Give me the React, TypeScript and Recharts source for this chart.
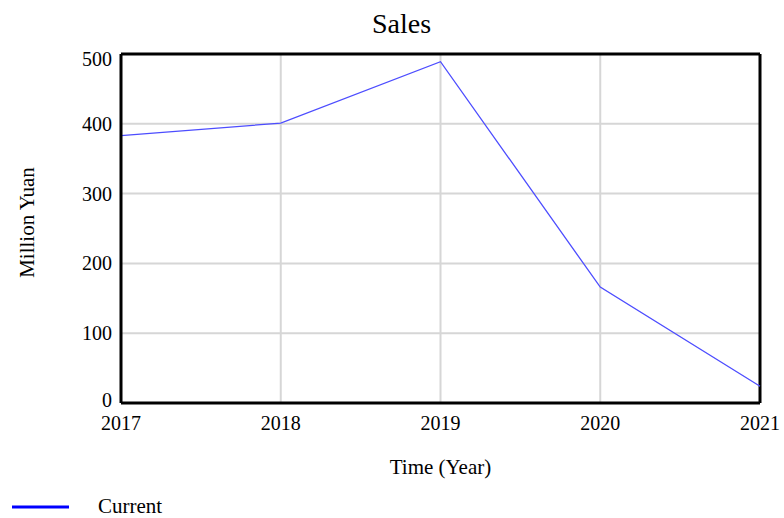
import React from 'react';
import { LineChart, Line, XAxis, YAxis, CartesianGrid, ReferenceLine, Label } from 'recharts';

const years = [2017, 2018, 2019, 2020, 2021];
const current = [383, 401, 489, 166, 24];
const yTicks = [0, 100, 200, 300, 400, 500];
const title = 'Sales';
const seriesName = 'Current';
const xLabel = 'Time (Year)';
const yLabel = 'Million Yuan';

const data = years.map((y, i) => ({ year: y, current: current[i] }));

const FONT = '"Liberation Serif", "Times New Roman", serif';

const YTick = (props: any) => {
  const { x, y, payload } = props;
  let shift = 0;
  if (payload.value === 500) shift = 5;
  if (payload.value === 0) shift = -3;
  return (
    <text x={x} y={y} dy={7 + shift} textAnchor="end" fontFamily={FONT} fontSize={20} fill="#000">
      {payload.value}
    </text>
  );
};

const YLabel = (props: any) => {
  const vb = props.viewBox || {};
  const cx = (vb.x || 0) + 27;
  const cy = (vb.y || 0) + (vb.height || 0) / 2 - 6;
  return (
    <text
      x={cx}
      y={cy}
      transform={`rotate(-90, ${cx}, ${cy})`}
      textAnchor="middle"
      dy={7}
      fontFamily={FONT}
      fontSize={21}
      fill="#000"
    >
      {yLabel}
    </text>
  );
};

export default function App() {
  return (
    <div style={{ position: 'absolute', left: 0, top: 0, width: 784, height: 518, background: '#fff' }}>
      <LineChart width={784} height={518} data={data} margin={{ top: 54, right: 24, bottom: 0, left: 0 }}>
        <CartesianGrid stroke="#d6d6d6" strokeWidth={2} />
        <XAxis
          dataKey="year"
          type="number"
          domain={[2017, 2021]}
          ticks={years}
          height={115}
          tickLine={false}
          tickSize={0}
          tickMargin={13}
          axisLine={{ stroke: '#000', strokeWidth: 3 }}
          tick={{ fontFamily: FONT, fontSize: 20, fill: '#000' }}
          label={{ value: xLabel, position: 'insideBottom', offset: 44, style: { fontFamily: FONT, fontSize: 21, fill: '#000' } }}
        />
        <YAxis
          type="number"
          domain={[0, 500]}
          ticks={yTicks}
          width={121}
          tickLine={false}
          tickSize={0}
          tickMargin={9}
          axisLine={{ stroke: '#000', strokeWidth: 3 }}
          tick={<YTick />}
        >
          <Label content={<YLabel />} />
        </YAxis>
        <ReferenceLine y={500} stroke="#000" strokeWidth={3} ifOverflow="visible" />
        <ReferenceLine x={2021} stroke="#000" strokeWidth={3} ifOverflow="visible" />
        <Line
          type="linear"
          dataKey="current"
          name={seriesName}
          stroke="#4d4dff"
          strokeWidth={1.3}
          dot={false}
          activeDot={false}
          isAnimationActive={false}
        />
      </LineChart>
      <svg width={784} height={518} style={{ position: 'absolute', left: 0, top: 0, pointerEvents: 'none' }}>
        <text x={401.5} y={33} textAnchor="middle" fontFamily={FONT} fontSize={28} fill="#000">{title}</text>
        <line x1={12} x2={69} y1={507} y2={507} stroke="#0000ff" strokeWidth={3} />
        <text x={98} y={513} fontFamily={FONT} fontSize={21} fill="#000">{seriesName}</text>
      </svg>
    </div>
  );
}
